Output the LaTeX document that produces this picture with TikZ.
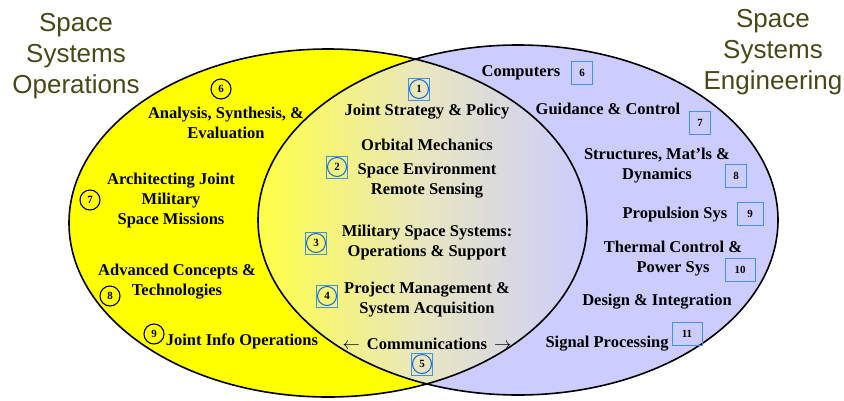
\documentclass[tikz,border=0pt]{standalone}
\usepackage{fontspec}
\setmainfont{Liberation Serif}
\setsansfont{Liberation Sans}
\definecolor{opsyellow}{RGB}{255,255,0}
\definecolor{lensleft}{RGB}{255,255,70}
\definecolor{lensmid}{RGB}{232,230,192}
\definecolor{englav}{RGB}{204,204,255}
\definecolor{titleolive}{RGB}{72,72,24}
\definecolor{boxblue}{RGB}{70,145,230}
\definecolor{ringblue}{RGB}{20,100,210}

\begin{document}
\begin{tikzpicture}[x=1pt,y=-1pt,
                    topic/.style={font=\bfseries\fontsize{16.5}{20}\selectfont, align=center, inner sep=0pt},
                    headline/.style={font=\sffamily\fontsize{26}{31}\selectfont, text=titleolive, align=center, inner sep=0pt},
                    ringnum/.style={circle, draw=black, line width=1.1pt, minimum size=20pt, inner sep=0pt, font=\bfseries\fontsize{11}{11}\selectfont},
                    lensbox/.style={draw=boxblue, line width=0.8pt, minimum width=21pt, minimum height=22pt, inner sep=0pt},
                    lensring/.style={circle, draw=ringblue, line width=1pt, minimum size=19pt, inner sep=0pt, font=\bfseries\fontsize{11}{11}\selectfont},
                    engbox/.style={draw=boxblue, line width=0.8pt, minimum width=21pt, minimum height=23pt, inner sep=0pt, font=\bfseries\fontsize{11}{11}\selectfont}]
                    \useasboundingbox (0,0) rectangle (844,400);
                    \fill[opsyellow] (328,223) ellipse [x radius=259pt, y radius=174pt];
                    \fill[englav] (518,220) ellipse [x radius=260pt, y radius=175pt];
                    \begin{scope}
                    \clip (328,223) ellipse [x radius=259pt, y radius=174pt];
                    \clip (518,220) ellipse [x radius=260pt, y radius=175pt];
                    \shade[left color=lensleft, right color=englav, middle color=lensmid] (258,40) rectangle (588,400);
                    \end{scope}
                    \draw[line width=1.6pt] (328,223) ellipse [x radius=259pt, y radius=174pt];
                    \draw[line width=1.6pt] (518,220) ellipse [x radius=260pt, y radius=175pt];
                    \node[headline] (opstitle) at (76,56) {Space\\Systems\\Operations};
                    \node[headline] (engtitle) at (773,52) {Space\\Systems\\Engineering};
                    \node[ringnum] (o6) at (221,89) {6};
                    \node[topic] (analysis) at (226,123) {Analysis, Synthesis, \&\\Evaluation};
                    \node[ringnum] (o7) at (90,200) {7};
                    \node[topic] (architect) at (171,201) {Architecting Joint\\Military\\Space Missions};
                    \node[topic] (advanced) at (177,282) {Advanced Concepts \&\\Technologies};
                    \node[ringnum] (o8) at (110,296) {8};
                    \node[ringnum] (o9) at (154,334) {9};
                    \node[topic] (infoops) at (242,341) {Joint Info Operations};
                    \node[lensbox] (b1) at (419,89) {};
                    \node[lensring] (j1) at (b1) {1};
                    \node[topic] (strategy) at (427,112) {Joint Strategy \& Policy};
                    \node[lensbox] (b2) at (337,167) {};
                    \node[lensring] (j2) at (b2) {2};
                    \node[topic] (orbital) at (427,169) {Orbital Mechanics\\[4pt]Space Environment\\Remote Sensing};
                    \node[lensbox] (b3) at (316,243) {};
                    \node[lensring] (j3) at (b3) {3};
                    \node[topic] (milspace) at (427,243) {Military Space Systems:\\Operations \& Support};
                    \node[lensbox] (b4) at (327,296) {};
                    \node[lensring] (j4) at (b4) {4};
                    \node[topic] (project) at (427,300) {Project Management \&\\System Acquisition};
                    \node[topic] (comms) at (427,344) {$\leftarrow$\hspace{7pt}Communications\hspace{7pt}$\rightarrow$};
                    \node[lensbox] (b5) at (422,364) {};
                    \node[lensring] (j5) at (b5) {5};
                    \node[topic] (computers) at (521,73) {Computers};
                    \node[engbox] (e6) at (582,73) {6};
                    \node[topic] (guidance) at (608,109) {Guidance \& Control};
                    \node[engbox] (e7) at (700,123) {7};
                    \node[topic] (structures) at (657,166) {Structures, Mat’ls \&\\Dynamics};
                    \node[engbox] (e8) at (736,176) {8};
                    \node[topic] (propulsion) at (675,215) {Propulsion Sys};
                    \node[engbox, minimum width=26pt] (e9) at (750,214) {9};
                    \node[topic] (thermal) at (673,259) {Thermal Control \&\\Power Sys};
                    \node[engbox, minimum width=30pt] (e10) at (740,270) {10};
                    \node[topic] (design) at (657,302) {Design \& Integration};
                    \node[topic] (signal) at (607,344) {Signal Processing};
                    \node[engbox, minimum width=30pt] (e11) at (687,334) {11};
                \end{tikzpicture}
\end{document}
